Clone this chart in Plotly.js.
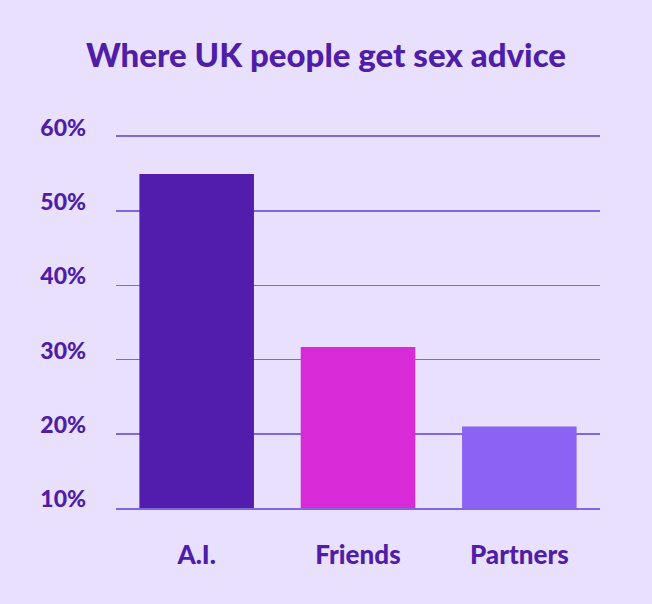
<!DOCTYPE html>
<html>
<head>
<meta charset="utf-8">
<script src="https://cdn.plot.ly/plotly-3.0.1.min.js"></script>
<style>html,body{margin:0;padding:0;background:#E8E0FC;}#chart{width:652px;height:604px;}</style>
</head>
<body>
<div id="chart"></div>
<script>
const categories = ["A.I.", "Friends", "Partners"];
const values = [55, 31.7, 21];
const barColors = ["#521CAC", "#D82AD6", "#8B62F3"];
const tickValues = [10, 20, 30, 40, 50, 60];
const tickLabels = ["10%", "20%", "30%", "40%", "50%", "60%"];

const textColor = "#4F1DA8";
const lineColor = "#7F66E2";
const fontFamily = "Lato, 'Open Sans', sans-serif";

Plotly.newPlot("chart", [{
  type: "bar",
  x: categories,
  y: values,
  marker: {color: barColors, line: {width: 0}},
  width: 0.71,
  hoverinfo: "none"
}], {
  width: 652,
  height: 604,
  paper_bgcolor: "#E8E0FC",
  plot_bgcolor: "#E8E0FC",
  margin: {l: 116, r: 52, t: 137, b: 96},
  title: {
    text: "Where UK people get sex advice",
    font: {family: fontFamily, size: 33, color: textColor, weight: 900},
    x: 0.5, xanchor: "center",
    y: 0.909, yanchor: "middle", yref: "container"
  },
  xaxis: {
    showgrid: false, zeroline: false,
    showline: true, mirror: true, linecolor: lineColor, linewidth: 1.6,
    ticks: "", ticklabelstandoff: 23,
    tickfont: {family: fontFamily, size: 26, color: textColor, weight: 900}
  },
  yaxis: {
    range: [10, 60],
    tickvals: tickValues, ticktext: tickLabels,
    showgrid: true, gridcolor: lineColor, gridwidth: 1.6,
    zeroline: false, showline: false, ticks: "",
    ticklabelstandoff: 29, ticklabelshift: -9,
    tickfont: {family: fontFamily, size: 23, color: textColor, weight: 900}
  },
  showlegend: false
}, {displayModeBar: false, staticPlot: true});
</script>
</body>
</html>
